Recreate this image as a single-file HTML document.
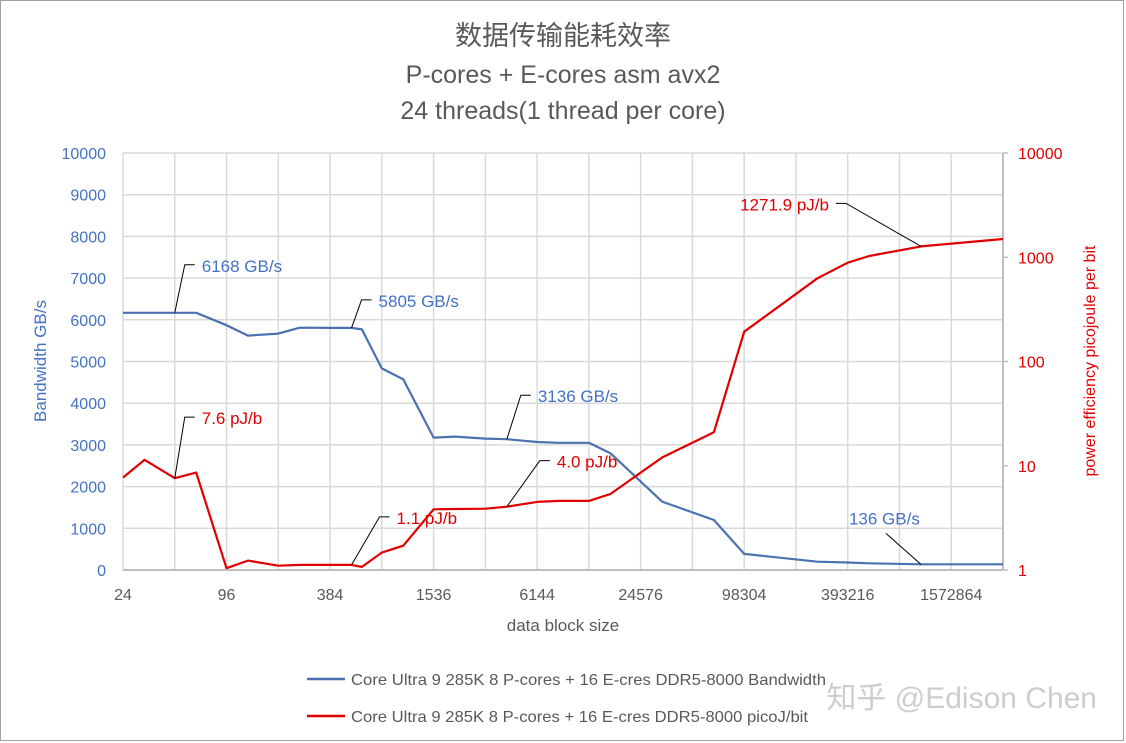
<!DOCTYPE html>
<html><head><meta charset="utf-8"><style>
html,body{margin:0;padding:0;background:#fff;}
svg{display:block;font-family:"Liberation Sans","Noto Sans CJK SC",sans-serif;}
</style></head><body>
<svg id="chart" width="1126" height="743" viewBox="0 0 1126 743" xmlns="http://www.w3.org/2000/svg">
<rect x="0.5" y="0.5" width="1123" height="740" fill="#fff" stroke="#a0a0a0"/>
<text x="563" y="45" text-anchor="middle" font-size="27" fill="#595959">数据传输能耗效率</text>
<text x="563" y="83" text-anchor="middle" font-size="25" fill="#595959">P-cores + E-cores asm avx2</text>
<text x="563" y="119" text-anchor="middle" font-size="25" fill="#595959">24 threads(1 thread per core)</text>
<g id="grid"></g>
<g id="axes"></g>
<g id="series"></g>
<g id="notes"></g>
<text x="46" y="361" text-anchor="middle" font-size="17" fill="#4472c4" transform="rotate(-90 46 361)">Bandwidth GB/s</text>
<text x="1095" y="361" text-anchor="middle" font-size="16" fill="#e00000" transform="rotate(-90 1095 361)">power efficiency picojoule per bit</text>
<text x="563" y="631" text-anchor="middle" font-size="17" fill="#595959">data block size</text>
<g>
<line x1="307" y1="679" x2="345" y2="679" stroke="#4a72b0" stroke-width="2.5"/>
<text x="351" y="685" font-size="16" fill="#595959" textLength="475" lengthAdjust="spacingAndGlyphs">Core Ultra 9 285K 8 P-cores + 16 E-cres DDR5-8000 Bandwidth</text>
<line x1="307" y1="716" x2="345" y2="716" stroke="#e00000" stroke-width="2.5"/>
<text x="351" y="722" font-size="16" fill="#595959" textLength="457" lengthAdjust="spacingAndGlyphs">Core Ultra 9 285K 8 P-cores + 16 E-cres DDR5-8000 picoJ/bit</text>
</g>
<text x="1097" y="708" text-anchor="end" font-size="30" fill="#c8c8c8" fill-opacity="0.9">知乎 @Edison Chen</text>
</svg>
<script>
const sizes=[24,32,48,64,96,128,192,256,384,512,588,768,1024,1536,2048,3072,4096,6144,8192,12288,16384,32768,65536,98304,262144,393216,524288,1048576,3145728];
const bandwidth=[6168,6168,6168,6168,5870,5620,5670,5810,5805,5805,5770,4835,4570,3175,3200,3150,3136,3070,3050,3050,2800,1640,1200,385,200,180,160,136,136];
const picoj=[7.7,11.4,7.6,8.6,1.04,1.23,1.1,1.12,1.12,1.12,1.07,1.47,1.71,3.82,3.85,3.87,4.05,4.5,4.6,4.6,5.36,12,21,193,628,887,1028,1272,1497];
const xTicks=[24,96,384,1536,6144,24576,98304,393216,1572864];
const leftTicks=[0,1000,2000,3000,4000,5000,6000,7000,8000,9000,10000];
const rightTicks=[1,10,100,1000,10000];
const bwNotes=[[2,"6168 GB/s"],[9,"5805 GB/s"],[16,"3136 GB/s"]];
const pjNotes=[[2,"7.6 pJ/b"],[9,"1.1 pJ/b"],[16,"4.0 pJ/b"]];

const X0=123,X1=1003,Y0=570,Y1=153;
const NS="http://www.w3.org/2000/svg";
const xs=v=>X0+Math.log2(v/24)*(X1-X0)/17;
const yl=v=>Y0-v/10000*(Y0-Y1);
const yr=v=>Y0-Math.log10(v)/4*(Y0-Y1);
function mk(tag,attrs,parent,txt){const e=document.createElementNS(NS,tag);for(const k in attrs)e.setAttribute(k,attrs[k]);if(txt!==undefined)e.textContent=txt;document.getElementById(parent).appendChild(e);return e;}
for(let i=0;i<=17;i++){const x=X0+i*(X1-X0)/17;const g=mk('line',{x1:x,y1:Y1,x2:x,y2:Y0,stroke:'#d9d9d9','stroke-width':1.5},'grid');

}
leftTicks.forEach(t=>{const g=mk('line',{x1:X0,y1:yl(t),x2:X1,y2:yl(t),stroke:'#d9d9d9','stroke-width':1.5},'grid');


const l=mk('text',{x:X0-17,y:yl(t)+6,'text-anchor':'end','font-size':16,fill:'#4472c4'},'axes',String(t));

});
rightTicks.forEach(t=>{const l=mk('text',{x:1018,y:yr(t)+6,'font-size':16,fill:'#e00000'},'axes',String(t));


const m=mk('line',{x1:X1,y1:yr(t),x2:X1+5,y2:yr(t),stroke:'#bfbfbf','stroke-width':1.5},'axes');

});
xTicks.forEach(t=>{const l=mk('text',{x:xs(t),y:600,'text-anchor':'middle','font-size':16,fill:'#595959'},'axes',String(t));

});
const ax=mk('line',{x1:X0,y1:Y0,x2:X1,y2:Y0,stroke:'#bfbfbf','stroke-width':2},'axes');


const ar=mk('line',{x1:X1,y1:Y1,x2:X1,y2:Y0,stroke:'#bfbfbf','stroke-width':2},'axes');


const bp=sizes.map((s,i)=>xs(s).toFixed(1)+','+yl(bandwidth[i]).toFixed(1)).join(' ');
const b=mk('polyline',{points:bp,fill:'none',stroke:'#4a72b0','stroke-width':2.2,'stroke-linejoin':'round'},'series');


const rp=sizes.map((s,i)=>xs(s).toFixed(1)+','+yr(picoj[i]).toFixed(1)).join(' ');
const r=mk('polyline',{points:rp,fill:'none',stroke:'#e00000','stroke-width':2.2,'stroke-linejoin':'round'},'series');


function note(px,py,dx,dy,label,color,name){
 const lx=px+dx,ly=py+dy;
 const p=mk('polyline',{points:`${px},${py} ${lx},${ly} ${lx+10},${ly}`,fill:'none',stroke:'#000','stroke-width':1},'notes');
 
 
 const t=mk('text',{x:lx+17,y:ly+7,'font-size':17,fill:color},'notes',label);
 
 
}
const bwOff=[[10,-48],[10,-28],[14,-44]];
bwNotes.forEach((n,k)=>note(xs(sizes[n[0]]),yl(bandwidth[n[0]]),bwOff[k][0],bwOff[k][1],n[1],'#4472c4','bandwidth-label'));
const pjOff=[[10,-61],[28,-48],[33,-46]];
pjNotes.forEach((n,k)=>note(xs(sizes[n[0]]),yr(picoj[n[0]]),pjOff[k][0],pjOff[k][1],n[1],'#e00000','picoj-label'));
{const i=27,px=xs(sizes[i]),py=yl(bandwidth[i]);
const l=mk('line',{x1:px,y1:py,x2:px-35,y2:py-31,stroke:'#000','stroke-width':1},'notes');


const t=mk('text',{x:px-72,y:py-40,'font-size':17,fill:'#4472c4'},'notes',bandwidth[i]+' GB/s');

}
{const i=27,px=xs(sizes[i]),py=yr(picoj[i]);
const l=mk('polyline',{points:`${px},${py} ${px-75},${py-43} ${px-85},${py-43}`,fill:'none',stroke:'#000','stroke-width':1},'notes');


const t=mk('text',{x:px-92,y:py-36,'text-anchor':'end','font-size':17,fill:'#e00000'},'notes','1271.9 pJ/b');

}
</script>
</body></html>
